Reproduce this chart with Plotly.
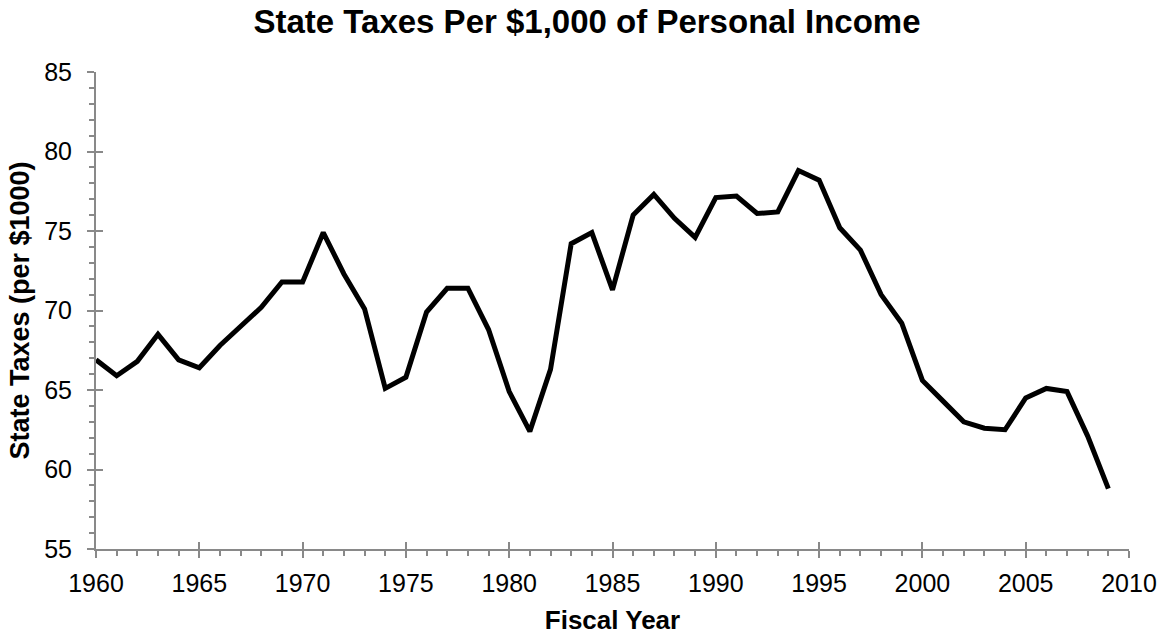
import plotly.graph_objects as go

years = list(range(1960, 2010))
taxes = [66.9, 65.9, 66.8, 68.5, 66.9, 66.4, 67.8, 69.0, 70.2, 71.8,
         71.8, 74.9, 72.3, 70.1, 65.1, 65.8, 69.9, 71.4, 71.4, 68.8,
         64.9, 62.4, 66.3, 74.2, 74.9, 71.3, 76.0, 77.3, 75.8, 74.6,
         77.1, 77.2, 76.1, 76.2, 78.8, 78.2, 75.2, 73.8, 71.0, 69.2,
         65.6, 64.3, 63.0, 62.6, 62.5, 64.5, 65.1, 64.9, 62.1, 58.8]

title_text = "State Taxes Per $1,000 of Personal Income"
x_title = "Fiscal Year"
y_title = "State Taxes (per $1000)"
x_range = [1960, 2010]
y_range = [55, 85]

FONT = "Liberation Sans, Arial, sans-serif"
AX = "#898989"
W, H = 1165, 635

fig = go.Figure()
fig.add_trace(go.Scatter(x=years, y=taxes, mode="lines",
                         line=dict(color="black", width=5),
                         showlegend=False, hoverinfo="x+y"))

fig.update_layout(
    width=W, height=H,
    paper_bgcolor="white", plot_bgcolor="white",
    margin=dict(l=96, r=36, t=72, b=86),
    font=dict(family=FONT, color="black", size=25),
    title=dict(text="<b>" + title_text + "</b>", x=587/W, xanchor="center",
               xref="container", yref="container", y=1-21.5/H, yanchor="middle",
               font=dict(size=33, family=FONT, color="black")),
    xaxis=dict(range=x_range, tick0=1960, dtick=5, showgrid=False, zeroline=False,
               automargin=False,
               showline=True, linecolor=AX, linewidth=2,
               ticks="outside", ticklen=7, tickwidth=2, tickcolor=AX,
               minor=dict(ticks="outside", ticklen=5, tickwidth=2, tickcolor=AX, dtick=1, showgrid=False),
               tickfont=dict(size=25, family=FONT, color="black"),
               ticklabelstandoff=4,
               title=dict(text="<b>" + x_title + "</b>", font=dict(size=26, family=FONT, color="black"), standoff=17)),
    yaxis=dict(range=y_range, tick0=55, dtick=5, showgrid=False, zeroline=False,
               automargin=False,
               showline=True, linecolor=AX, linewidth=2,
               ticks="outside", ticklen=7, tickwidth=2, tickcolor=AX,
               minor=dict(ticks="outside", ticklen=5, tickwidth=2, tickcolor=AX, dtick=1, showgrid=False),
               tickfont=dict(size=25, family=FONT, color="black"),
               ticklabelstandoff=10,
               title=dict(text="<b>" + y_title + "</b>", font=dict(size=27, family=FONT, color="black"), standoff=7)),
    xaxis2=dict(range=x_range, overlaying="x", anchor="y", side="bottom", tick0=1960, dtick=5,
                automargin=False,
                showgrid=False, zeroline=False, showline=False, showticklabels=False,
                ticks="inside", ticklen=7, tickwidth=2, tickcolor=AX),
    yaxis2=dict(range=y_range, overlaying="y", anchor="x", side="left", tick0=55, dtick=5,
                automargin=False,
                showgrid=False, zeroline=False, showline=False, showticklabels=False,
                ticks="inside", ticklen=7, tickwidth=2, tickcolor=AX),
)
# invisible trace to host the inner-tick axes
fig.add_trace(go.Scatter(x=[years[0]], y=[taxes[0]], xaxis="x2", yaxis="y2",
                         mode="markers", marker=dict(opacity=0), showlegend=False, hoverinfo="skip"))

fig.write_html("out.html", config={"displayModeBar": False},
               post_script="document.body.style.margin='0';document.body.style.overflow='hidden';")
